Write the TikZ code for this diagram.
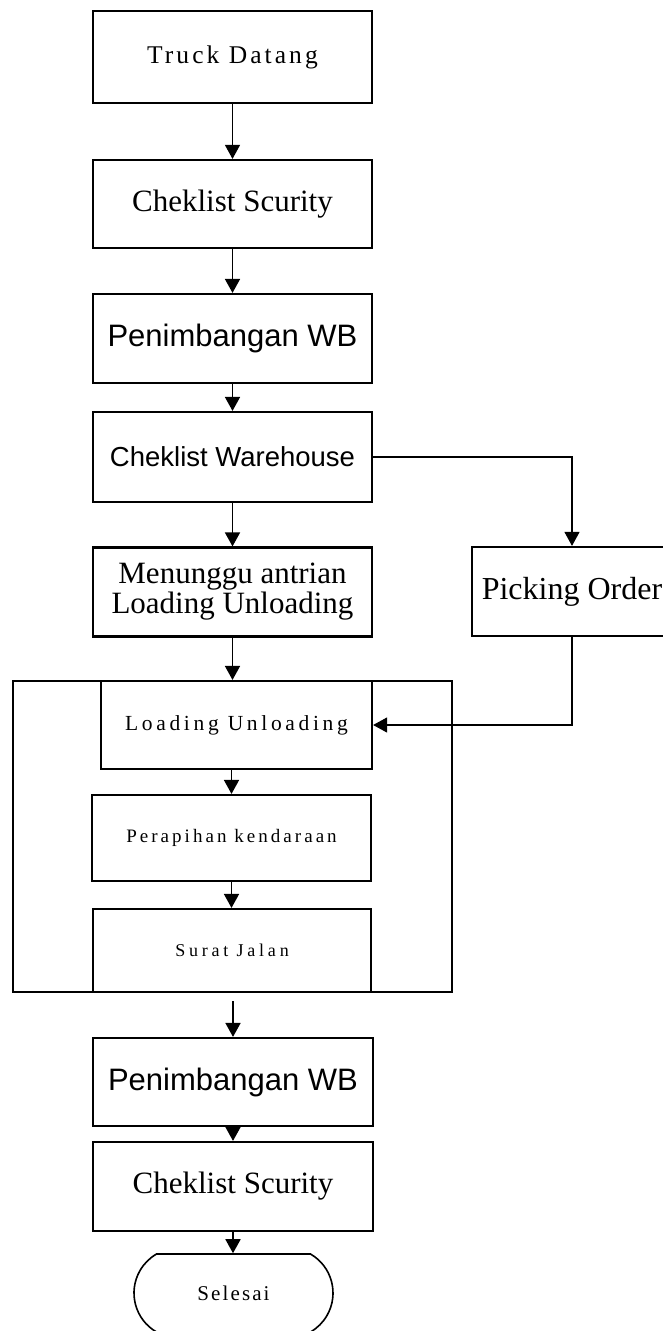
\documentclass[tikz,border=0pt]{standalone}
\usepackage{fontspec}
\setmainfont{Liberation Serif}
\newfontfamily\arialf{Liberation Sans}
\usetikzlibrary{arrows.meta,shapes.misc}
\begin{document}
\begin{tikzpicture}[x=1pt,y=-1pt,
  box/.style={draw,line width=2.2pt,inner sep=0pt,align=center},
  conn/.style={line width=1.8pt,-{Triangle[length=14pt,width=15pt]}},
  thinconn/.style={line width=1.1pt,-{Triangle[length=14pt,width=15pt]}},
  serif/.style={font=\fontsize{31}{30}\selectfont},
  sans/.style={font=\arialf\fontsize{31}{30}\selectfont},
]
\useasboundingbox (0,0) rectangle (662,1331);

\node[box,minimum width=279pt,minimum height=92pt,
  font=\fontsize{25.5}{29}\selectfont\addfontfeature{LetterSpace=12}] (truck) at (232.5,57) {Truck Datang};
\node[box,serif,minimum width=279pt,minimum height=88pt] (cs1) at (232.5,204) {Cheklist Scurity};
\node[box,sans,minimum width=279pt,minimum height=89pt] (pen1) at (232.5,338.5) {Penimbangan WB};
\node[box,minimum width=279pt,minimum height=90pt,font=\arialf\fontsize{27.5}{29}\selectfont] (cw) at (232.5,457) {Cheklist Warehouse};
\node[box,serif,minimum width=279pt,minimum height=89pt] (mu) at (232.5,592) {Menunggu antrian\\Loading Unloading};
\node[box,serif,minimum width=200pt,minimum height=89pt,font=\fontsize{32}{29}\selectfont] (po) at (572,591.5) {Picking Order};

\node[box,minimum width=439pt,minimum height=311pt] (cont) at (232.5,836.5) {};
\node[box,minimum width=271pt,minimum height=88pt,
  font=\fontsize{21.5}{29}\selectfont\addfontfeature{LetterSpace=17}] (lu) at (236.5,725) {Loading Unloading};
\node[box,minimum width=279pt,minimum height=86pt,
  font=\fontsize{19}{29}\selectfont\addfontfeature{LetterSpace=16}] (pk) at (231.5,838) {Perapihan kendaraan};
\node[box,minimum width=278pt,minimum height=83pt,
  font=\fontsize{18}{29}\selectfont\addfontfeature{LetterSpace=21}] (sj) at (232,950.5) {Surat Jalan};

\node[box,sans,minimum width=280pt,minimum height=88pt] (pen2) at (233,1082) {Penimbangan WB};
\node[box,serif,minimum width=280pt,minimum height=89pt] (cs2) at (233,1186.5) {Cheklist Scurity};
\node[draw,line width=1.6pt,rounded rectangle,rounded rectangle arc length=120,inner sep=0pt,
  minimum width=199pt,minimum height=78pt,
  font=\fontsize{21}{29}\selectfont\addfontfeature{LetterSpace=10}] (sel) at (233.5,1293) {Selesai};

\draw[conn,line width=1.3pt] (truck.south) -- (truck.south |- cs1.north);
\draw[conn] (cs1.south) -- (cs1.south |- pen1.north);
\draw[conn] (pen1.south) -- (pen1.south |- cw.north);
\draw[conn] (cw.south) -- (cw.south |- mu.north);
\draw[thinconn] (cw.east) -| (po.north);
\draw[conn] (mu.south) -- (mu.south |- lu.north);
\draw[thinconn] (po.south) |- (lu.east);
\draw[conn] (pk.north |- lu.south) -- (pk.north);
\draw[conn] (pk.south) -- (pk.south |- sj.north);
\draw[conn,shorten <=8pt] (pen2.north |- cont.south) -- (pen2.north);
\draw[conn] (pen2.south) -- (cs2.north);
\draw[conn] (cs2.south) -- (cs2.south |- sel.north);
\end{tikzpicture}
\end{document}
